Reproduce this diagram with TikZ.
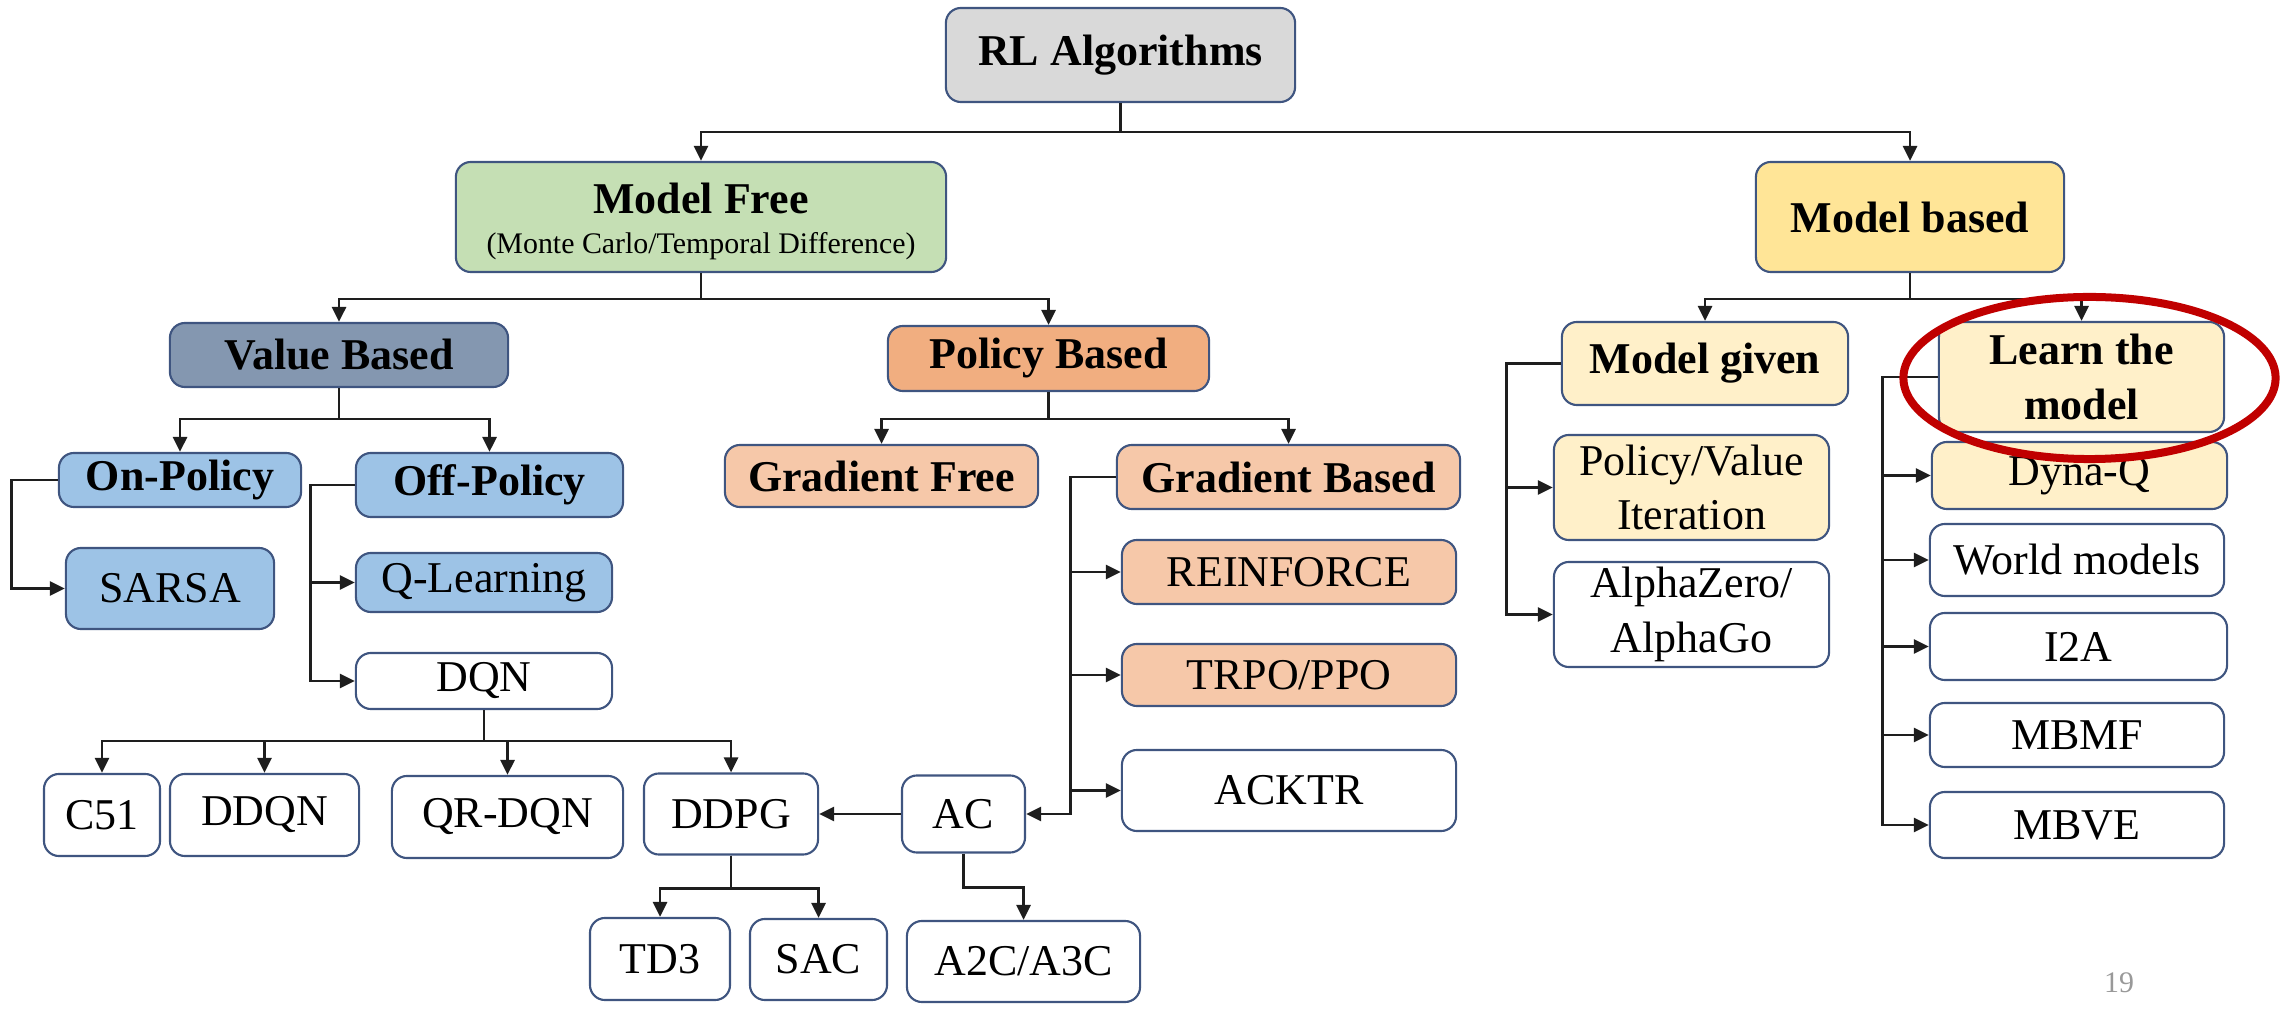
\documentclass[tikz,border=0pt]{standalone}
\usepackage{fontspec}
\setmainfont{Liberation Serif}
\usetikzlibrary{arrows.meta}
\definecolor{bord}{HTML}{3F5580}
\definecolor{cgray}{HTML}{D9D9D9}
\definecolor{cgreen}{HTML}{C5DFB4}
\definecolor{cslate}{HTML}{8497B0}
\definecolor{cblue}{HTML}{9DC3E6}
\definecolor{corange}{HTML}{F1AE80}
\definecolor{cpeach}{HTML}{F6C8A9}
\definecolor{cyellow}{HTML}{FFE597}
\definecolor{ccream}{HTML}{FFF0C9}
\definecolor{cred}{HTML}{C00000}
\definecolor{cline}{HTML}{1E1E1E}
\begin{document}
\begin{tikzpicture}[x=0.01cm,y=-0.01cm,
 box/.style={draw=bord, line width=0.6pt, rounded corners=0.15cm, align=center, inner sep=0pt, fill=white, font=\fontsize{12.5}{15.6}\selectfont},
 bbox/.style={box, font=\fontsize{12.5}{15.6}\selectfont\bfseries},
 arr/.style={draw=cline, line width=0.8pt, -{Triangle[length=0.15cm,width=0.14cm]}}]
\useasboundingbox (0,0) rectangle (2290,1010);
% nodes
\node[bbox, fill=cgray, minimum width=3.49cm, minimum height=0.94cm] (rl) at (1120.5,55) {RL Algorithms};
\node[box, fill=cgreen, minimum width=4.90cm, minimum height=1.10cm] (mf) at (701,217) {};
\node[font=\fontsize{12.5}{15}\selectfont\bfseries] (mft) at (701,198) {Model Free};
\node[font=\fontsize{8.5}{10}\selectfont] (mfs) at (701,246) {(Monte Carlo/Temporal Difference)};
\node[bbox, fill=cyellow, minimum width=3.08cm, minimum height=1.10cm] (mb) at (1910,217) {Model based};
\node[bbox, fill=cslate, minimum width=3.38cm, minimum height=0.64cm] (vb) at (339,355) {Value Based};
\node[bbox, fill=corange, minimum width=3.21cm, minimum height=0.65cm] (pb) at (1048.5,358.5) {Policy Based};
\node[bbox, fill=ccream, minimum width=2.86cm, minimum height=0.83cm] (mg) at (1705,363.5) {Model given};
\node[bbox, fill=ccream, minimum width=2.85cm, minimum height=1.10cm] (lm) at (2081.5,377) {Learn the\\model};
\node[bbox, fill=cblue, minimum width=2.42cm, minimum height=0.54cm] (onp) at (180,480) {On-Policy};
\node[bbox, fill=cblue, minimum width=2.67cm, minimum height=0.64cm] (offp) at (489.5,485) {Off-Policy};
\node[bbox, fill=cpeach, minimum width=3.13cm, minimum height=0.62cm] (gf) at (881.5,476) {Gradient Free};
\node[bbox, fill=cpeach, minimum width=3.43cm, minimum height=0.64cm] (gb) at (1288.5,477) {Gradient Based};
\node[box, fill=ccream, minimum width=2.75cm, minimum height=1.05cm] (pvi) at (1691.5,487.5) {Policy/Value\\Iteration};
\node[box, minimum width=2.75cm, minimum height=1.05cm] (az) at (1691.5,614.5) {AlphaZero/\\AlphaGo};
\node[box, fill=ccream, minimum width=2.95cm, minimum height=0.67cm] (dyna) at (2079.5,475.5) {Dyna-Q};
\node[box, minimum width=2.94cm, minimum height=0.72cm] (wm) at (2077,560) {World models};
\node[box, minimum width=2.97cm, minimum height=0.67cm] (i2a) at (2078.5,646.5) {I2A};
\node[box, minimum width=2.94cm, minimum height=0.64cm] (mbmf) at (2077,735) {MBMF};
\node[box, minimum width=2.94cm, minimum height=0.66cm] (mbve) at (2077,825) {MBVE};
\node[box, fill=cblue, minimum width=2.08cm, minimum height=0.81cm] (sarsa) at (170,588.5) {SARSA};
\node[box, fill=cblue, minimum width=2.56cm, minimum height=0.59cm] (ql) at (484,582.5) {Q-Learning};
\node[box, minimum width=2.56cm, minimum height=0.56cm] (dqn) at (484,681) {DQN};
\node[box, fill=cpeach, minimum width=3.34cm, minimum height=0.64cm] (rf) at (1289,572) {REINFORCE};
\node[box, fill=cpeach, minimum width=3.34cm, minimum height=0.62cm] (trpo) at (1289,675) {TRPO/PPO};
\node[box, minimum width=3.34cm, minimum height=0.81cm] (acktr) at (1289,790.5) {ACKTR};
\node[box, minimum width=1.16cm, minimum height=0.82cm] (c51) at (102,815) {C51};
\node[box, minimum width=1.89cm, minimum height=0.82cm] (ddqn) at (264.5,815) {DDQN};
\node[box, minimum width=2.31cm, minimum height=0.82cm] (qr) at (507.5,817) {QR-DQN};
\node[box, minimum width=1.74cm, minimum height=0.81cm] (ddpg) at (731,814) {DDPG};
\node[box, minimum width=1.23cm, minimum height=0.77cm] (ac) at (963.5,814) {AC};
\node[box, minimum width=1.40cm, minimum height=0.82cm] (td3) at (660,959) {TD3};
\node[box, minimum width=1.37cm, minimum height=0.81cm] (sac) at (818.5,959.5) {SAC};
\node[box, minimum width=2.33cm, minimum height=0.81cm] (a2c) at (1023.5,961.5) {A2C/A3C};
\node[text=black!40, font=\fontsize{8.5}{10}\selectfont] (pg) at (2119,983) {19};
% connectors
\draw[arr] (rl.south) -- ++(0,29) -| (mf.north);
\draw[arr] (rl.south) -- ++(0,29) -| (mb.north);
\draw[arr] (mf.south) -- ++(0,26) -| (vb.north);
\draw[arr] (mf.south) -- ++(0,26) -| (pb.north);
\draw[arr] (mb.south) -- ++(0,26) -| (mg.north);
\draw[arr] (mb.south) -- ++(0,26) -| (lm.north);
\draw[arr] (vb.south) -- ++(0,31) -| (onp.north);
\draw[arr] (vb.south) -- ++(0,31) -| (offp.north);
\draw[arr] (pb.south) -- ++(0,27) -| (gf.north);
\draw[arr] (pb.south) -- ++(0,27) -| (gb.north);
\draw[arr] (onp.west) -- ++(-46,0) |- (sarsa.west);
\draw[arr] (offp.west) -- ++(-44,0) |- (ql.west);
\draw[arr] (offp.west) -- ++(-44,0) |- (dqn.west);
\draw[arr] (gb.west) -- ++(-45,0) |- (rf.west);
\draw[arr] (gb.west) -- ++(-45,0) |- (trpo.west);
\draw[arr] (gb.west) -- ++(-45,0) |- (acktr.west);
\draw[arr] (gb.west) -- ++(-45,0) |- (ac.east);
\draw[arr] (mg.west) -- ++(-54,0) |- (pvi.west);
\draw[arr] (mg.west) -- ++(-54,0) |- (az.west);
\draw[arr] (lm.west) -- ++(-55,0) |- (dyna.west);
\draw[arr] (lm.west) -- ++(-55,0) |- (wm.west);
\draw[arr] (lm.west) -- ++(-55,0) |- (i2a.west);
\draw[arr] (lm.west) -- ++(-55,0) |- (mbmf.west);
\draw[arr] (lm.west) -- ++(-55,0) |- (mbve.west);
\draw[arr] (dqn.south) -- ++(0,31) -| (c51.north);
\draw[arr] (dqn.south) -- ++(0,31) -| (ddqn.north);
\draw[arr] (dqn.south) -- ++(0,31) -| (qr.north);
\draw[arr] (dqn.south) -- ++(0,31) -| (ddpg.north);
\draw[arr] (ac.west) -- (ddpg.east);
\draw[arr] (ddpg.south) -- ++(0,33) -| (td3.north);
\draw[arr] (ddpg.south) -- ++(0,33) -| (sac.north);
\draw[arr] (ac.south) -- ++(0,34) -| (a2c.north);
% highlight
\draw[cred, line width=0.08cm] (2089.5,378) ellipse [x radius=1.86cm, y radius=0.81cm];
\end{tikzpicture}
\end{document}
